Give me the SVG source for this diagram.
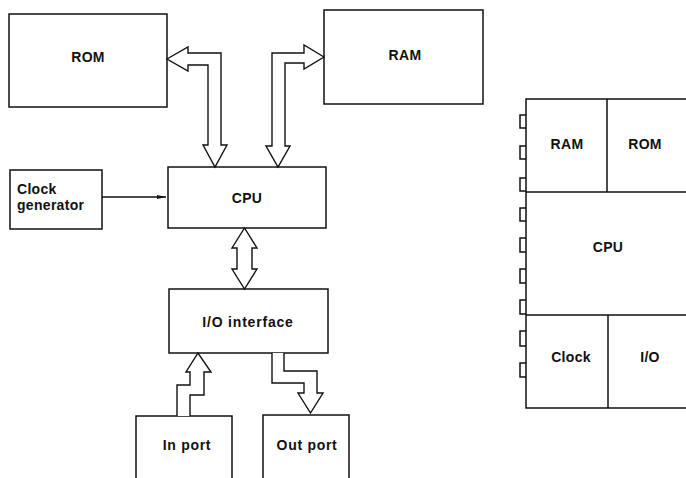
<svg xmlns="http://www.w3.org/2000/svg" width="686" height="478" viewBox="0 0 686 478">
<defs>
<style>
.b{fill:none;stroke:#111;stroke-width:1.5;stroke-linejoin:miter}
.bus{fill:#fff;stroke:#111;stroke-width:1.4;stroke-linejoin:miter}
.t{font-family:"Liberation Sans",Arial,sans-serif;font-weight:bold;font-size:14px;fill:#111;letter-spacing:0.3px}
.c{text-anchor:middle}
</style>
<marker id="ah" markerWidth="10" markerHeight="6" refX="9" refY="3" orient="auto" markerUnits="userSpaceOnUse">
<path d="M0,1 L9,3 L0,5 Z" fill="#111"/>
</marker>
</defs>
<rect width="686" height="478" fill="#fff"/>

<g id="rom">
<rect class="b" x="9" y="14" width="158" height="93"/>
<text class="t c" x="88" y="62">ROM</text>
</g>
<g id="ram">
<rect class="b" x="324" y="10" width="159" height="94"/>
<text class="t c" x="405" y="60">RAM</text>
</g>
<g id="cpu">
<rect class="b" x="168" y="167" width="158" height="61"/>
<text class="t c" x="247" y="203">CPU</text>
</g>
<g id="clock">
<rect class="b" x="10" y="170" width="92" height="59"/>
<text class="t" x="17" y="194">Clock</text>
<text class="t" x="17" y="210">generator</text>
</g>
<g id="io">
<rect class="b" x="169" y="289" width="159" height="64"/>
<text class="t c" x="248" y="327" style="letter-spacing:0.8px">I/O interface</text>
</g>
<g id="inport">
<path class="b" d="M136,480 V416 H232 V480"/>
<text class="t c" x="187" y="450" style="letter-spacing:0.7px">In port</text>
</g>
<g id="outport">
<path class="b" d="M263,480 V415 H349 V480"/>
<text class="t c" x="307" y="450" style="letter-spacing:0.7px">Out port</text>
</g>

<g id="connectors">
<path class="b" d="M102,197 H166" marker-end="url(#ah)"/>
<path class="bus" d="M167,59 L188,47 V53 H221 V145 H227 L215,167 L203,145 H208 V65 H188 V71 Z"/>
<path class="bus" d="M324,57 L304,45 V53 H272 V146 H266 L278,167 L290,146 H285 V63 H304 V69 Z"/>
<path class="bus" d="M244.5,228 L257,248 H252 V269 H257 L244.5,289 L232,269 H237 V248 H232 Z"/>
<path class="bus" d="M177,416 V385 H190 V372 H186 L198,353 L211,372 H204 V395 H190 V416"/>
<path class="bus" d="M272,353 V383 H304 V393 H298 L310.5,413 L323,393 H317 V371 H284 V353"/>
</g>

<g id="chip">
<path class="b" d="M690,99 H526 V408 H690"/>
<path class="b" d="M526,192 H690 M526,315 H690 M607,99 V192 M608,315 V408"/>
<path class="b" d="M526,115 H520 V128 H526 M526,146 H520 V159 H526 M526,178 H520 V191 H526 M526,208 H520 V221 H526 M526,238 H520 V252 H526 M526,269 H520 V283 H526 M526,300 H520 V314 H526 M526,331 H520 V346 H526 M526,363 H520 V377 H526"/>
<text class="t c" x="567" y="149">RAM</text>
<text class="t c" x="645" y="149">ROM</text>
<text class="t c" x="608" y="252">CPU</text>
<text class="t c" x="571" y="362">Clock</text>
<text class="t c" x="650" y="362">I/O</text>
</g>
</svg>
